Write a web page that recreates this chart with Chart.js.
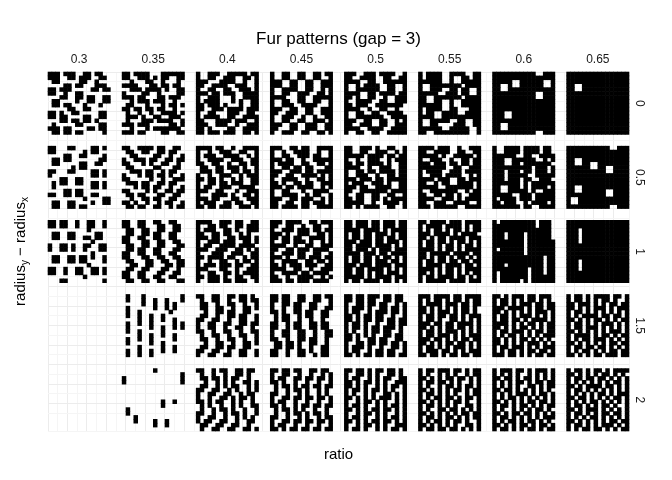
<!DOCTYPE html>
<html>
<head>
<meta charset="utf-8">
<script src="https://cdn.jsdelivr.net/npm/chart.js@4.4.1/dist/chart.umd.min.js"></script>
<style>
html, body { margin: 0; padding: 0; background: #fff; }
</style>
</head>
<body>
<canvas id="furChart" width="672" height="480"></canvas>
<script>
// facet labels
var ratios = ['0.3', '0.35', '0.4', '0.45', '0.5', '0.55', '0.6', '0.65'];
var radiusDiffs = ['0', '0.5', '1', '1.5', '2'];

// fur pattern of every panel on a 16 x 16 grid ('#' = black)
var furRow0 = [
    ["###.###..##.##..", "###..##.###..##.", ".##.....##..#...", "....##.##...###.", "##.###.....##.##", "##..#..##.......",
     "...##..##.##..##", ".##....#..##..##", ".##.##...#...#..", ".....##..##.....", "##.#..##.....##.", "##.##....##..##.",
     "...##.##.##.#...", ".#.....##....##.", "###.##....##.##.", ".##.##.##.....#."],
    ["##.####...######", "##..###.#.##..##", "..#...##..#...#.", "####...##.##.##.", "..###.####.#..##", "#....##..#....##",
     "###.##...##.###.", "..#.###.###..#..", ".##...#...#.##.#", "##.##.##.##..#..", ".#..#..#..####.#", ".###.#..##..###.",
     ".#...###.####..#", "###.###.....##.#", "..#...#.#######.", "###.##....##..##"],
    ["#..###..#####.##", "#..##..###..##.#", "###...####..#..#", "##..####..###..#", "#..##..##..###.#", "###.##.###..####",
     "#..###...#..####", "#.####...#.#..##", "##.###.#...#..##", "##..###.####.###", "#..##...###..##.", "#.####..##..####",
     "##...####.###..#", "###..###..#..###", "##.#....##..####", "##.###.###..##.#"],
    ["#..##..##..##.##", "#..##..##..##..#", "###..##..##..###", "###..##..##..###", "#..####..##..#.#", "#..##..###..##.#",
     "####...##..#####", "#..##..##..##..#", "#..###..####...#", "###..##..##..###", "##..###..##..###", "#..###..#..#..##",
     "#..##..##..###.#", "###..##..###..##", "##...##..###..##", "#..###..##..##.#"],
    ["###..###.####..#", "##..####..##..##", "####..##..######", "#..#.####..##..#", "#..######..##..#", "####..##.####.##",
     "##.#..##..#..###", "#..####..##..###", "##.###..#######.", "####..#..##..#..", "#..##..##..####.", "#..#######..####",
     "###..##..##..#.#", "##..###..##..###", "####..####..####", "#..##..##..#####"],
    ["#.####..####..##", "#.####..#..##.##", "######..#..#####", "#..########.####", "#..###..##.##..#", "#####..###.##..#",
     "##..#######.####", "##..##..#..#####", "######..#..#####", "#.####..##...###", "#.##..####..####", "####..##########",
     "#..#####..##..##", "#..##....###..##", "######..#####..#", "##..#########..#"],
    ["###########..###", "################", "#####..######..#", "##..#..######..#", "##..############", "###########..###",
     "###########..###", "################", "################", "################", "###..###########", "###..###########",
     "################", "##..############", "##..############", "###########..###"],
    ["################", "################", "################", "##..############", "##..############", "################",
     "################", "################", "################", "################", "################", "################",
     "################", "################", "################", "################"]
];
var furRow1 = [
    ["##...##....##.#.", "##.......#.##...", "....##..##....#.", ".##.##.......##.", ".##.....##..##..", "......#.##......",
     "##...##....##.#.", "#..........##.#.", "...##..##.......", ".#.##..##..##.#.", ".#.........##.#.", "....##.##.......",
     "##..##.##..##...", ".........#....##", ".##..##....#..##", ".##..##.##......"],
    ["##..####.##..##.", ".##..##..##.##..", "..##....##..#..#", "#..###.##..##.##", "##...#.#..##..#.", ".##.....##...##.",
     "..###.##..#.##..", "#...#.##.##.#..#", "##.....#..#..###", ".###.##..##.##..", "...#.##.##..#..#", "##....#.#..##.##",
     ".##.##...##..##.", "..#..##.##..##..", "##.#..#..#.##..#", ".##.##..##..#.##"],
    ["####.##..#..####", "#..#..###..##..#", "#.###..####..#.#", "#..####..###..##", "##..##..#..##.##", ".##..##.###.#..#",
     ".###.##..##.##.#", "#..#..###..#.###", "##.##.#..#.#..##", "#..##.##.###..##", "#.##..###..####.", "###..##...#..###",
     "#...####.#..##.#", "###.##...##..###", "#.###..##.##..##", "##.##.###..###.#"],
    ["###..##.##..####", "#..#..####..#..#", "#..##..###.##..#", "###.##..#..#####", "#.####..##..##.#", "#..##.##.##...##",
     "###..###.##.####", "##..##..####.#.#", "#..####..#..##.#", "##.#..##.##..###", "###.##.####..#.#", "#..##...#..####.",
     "#..####..#.##..#", "###..##.###..#.#", "##..##..##.###.#", "##.####.##..####"],
    ["##..###.#..##..#", "##..##..###..#.#", "#####.####.##.##", "#..#..###..#.###", "##.##.####.#..##", "####..#..###..##",
     "#..##.##.####.##", "#..###..#..##.##", "###.###.##.#####", "#.###..###.#..##", "###.##..####..##", "##..#######.####",
     "#..##..##..##..#", "##.##..##.#.####", "#####..#..####.#", "##.#.####..##..#"],
    ["####.###..#..###", "##..####..##..##", "#####.#..#####.#", "#..###..#..##.##", "###.###.##.##.##", "#######..##..###",
     "#.####..###.####", "#..###.####..#.#", "####.###..##.###", "##..#.##..####.#", "#####..#######.#", "#..#######..#.##",
     "##..##.##.#..###", "####..###.#.####", "##..###..####..#", "###.######..####"],
    ["#..####.####.##.", "#..####.####.##.", "######..##..####", "###..######..#.#", "###..##.#######.", "##########.###.#",
     "###.###.##.###.#", "###.#####..#####", "###.###.##..###.", "#######.#.######", "##..###.#.####.#", "##..#####.#..###",
     "#####..###.#####", "#.####.###.#####", "##.###..#.####.#", "#######.##..####"],
    ["###########..###", "################", "################", "##..############", "##..##..########", "######..##..####",
     "##########..####", "################", "################", "################", "##..############", "##..######..####",
     "##########..####", "#..#############", "#..#############", "###########..###"]
];
var furRow2 = [
    ["##.##..#..##..#.", "##.##..#..##..#.", "..........#.....", ".##..##.....##..", ".##..##..##.##..", "...........#....",
     "#..##.#..##..##.", "#..##.#..#...##.", "...........#....", ".##..##.##.#..#.", ".##..##.##....#.", "..........#.....",
     "##..#..##..##.#.", "##..#..##..##.#.", ".........#......", "...##.........#."],
    ["##..##..##..##..", "##..##...##..##.", ".##..##..##..##.", ".##..##.##..##..", "##..##..##..##..", "##...##..##..##.",
     ".##..##..##...##", ".##.##..##...##.", "##..##..##..##..", "##...##..##..##.", ".##...##..##..##", "..##..##...##.##",
     ".##..##...##..#.", "##..##...##..##.", "##..##..##..##..", ".##..##..##...##"],
    ["####..###.##..##", "#..##.##..##.###", "#.###..##.#..###", "##..##.##..#.#..", "###.##..##.###.#", "#..###.###..##.#",
     "#.##..####.####.", "###..###..##.#.#", "#...###..###..##", "##.####.##..#.##", "#..#..##..#.##.#", "#.###.###.##..##",
     "###...##..#..###", "#..##..##.#.####", "##.###.#..##..##", "#..###.##.###..#"],
    ["###.####..##.###", "##..##..#..##..#", "#..###.###.##.##", "###.#..###..##.#", "##.##.##..####.#", "#..##.###.#..#.#",
     "####..#..##..###", "##..##.###.####.", "#..###.##..##..#", "###.#..##.###.##", "#..####..##.##.#", "##.#.###.###..##",
     "####..##..#..###", "#..####.##.####.", "##..#..####..#.#", "###.##.###.####."],
    ["##.###.##.###.##", "##.###.##.###.##", "####.####.#.####", "#.##.##.###.#.##", "#.##.##.##.##.##", "###.###.##.###.#",
     "##.####.####.#.#", "##.###.#.###.###", "####.###.##.####", "#.##.##.#.##.#.#", "#.##.##.###.##.#", "###.###.####.###",
     "##.##.####.#.#.#", "##.##.#.##.###.#", "#####.#.####.###", "#.##.####.##.#.#"],
    ["##.####.###.####", "#.####.####.#.##", "#.#.##.#.##.#.##", "###.####.#.####.", "##.#.##.####.###", "#.##.##.#.##.#.#",
     "#.##.#.##.#.##.#", "####.#.##.#.####", "##.#####.####.##", "##.#.##.#.##.#.#", "#.##.##.##.##.##", "#.####.####.##.#",
     "####.#.##.#.####", "##.#.#.##.#.#.##", "#.##.####.##.#.#", "#.#####.####.###"],
    ["#.#########.###.", "###########.###.", "###############.", "###.####.######.", "###.####.######.", "########.#######",
     "########.#######", "#.######.#######", "########.#######", "#############.##", "#############.##", "###.#########.##",
     "#########.###.##", "#.#######.###.##", "#.#######.######", "#.#####.#.######"],
    ["################", "################", "###.############", "###.############", "###.############", "###.############",
     "################", "################", "################", "################", "###.############", "###.############",
     "###.############", "################", "################", "################"]
];
var furRow3 = [
    [],
    [".#...#.........#", ".#...#..#..#...#", ".....#..#..#.#..", ".#......#..#.#..", ".#..#.......#...", ".#..#..#..#.....",
     "....#..#..#..#..", ".#..#..#.....#.#", ".#.....#..#..#.#", ".#..#.....#.....", "....#..#..#..#..", ".#..#..#.....#..",
     ".#.....#..#.....", "....#.....#..#..", ".#..#..#..#..#..", ".#..#..#........"],
    ["##..##..##.##.#.", ".#..##..#..##.##", ".##..#..##..#..#", ".##..##..#..##.#", "..#..##.##..##..", ".##..#..##.##..#",
     "##..##..#..##..#", "#..##..##..##.##", "#..##..#..##..#.", "##..#..##..#..##", ".#..##..#..##..#", ".##..#..##..#..#",
     "..#..##..#..##.#", ".##..##.##..##..", "##..##..#..##..#", "#..##..##..##..#"],
    ["##.##..##..##.##", "##.##..##..##..#", "#..##.##..##...#", "#..#..##..##..##", "##.#..##.##..##.", ".#.##..#.##..##.",
     ".#.##..#..#..#..", "##..#.##..##.##.", "##..#.##..##.##.", "#..##..##..#..##", "#..##..##..#..##", "##..#..##.##..#.",
     ".##.##.#..##..#.", ".##.##.#..#..##.", "##..#..##.#..##.", "##..#..##..#.##."],
    ["##.##.###.##.##.", "##.##.##..##.##.", "#..##.##.##..#.#", "#.###.#..##.##.#", "#.##..#.###.##.#", "##.#.##.##..#..#",
     "##.#.##.##.##.##", "#.##.#..#..##.##", "#.##.#.##.###.#.", "#.#..#.##.##..#.", "##.#.#.#..##.##.", "##.#..##.##..##.",
     "#..##.##.##.##.#", "#.###.#..#..##.#", "#.##..#.##.##..#", "##.#.##.##.##.##"],
    ["###.####.##.####", "#.#.##.#.##.#.##", "#.####.###.##.##", "##.#.#.#.#.##.#.", "##.#.###.#.##.#.", "#.##.##.##.#.###",
     "#.##.#..##.#.#.#", "###.##.##.####.#", "##.#.#.##.##.#.#", "#.##.#.###.#.#.#", "#.##.###.#.#.###", "###.##.#.#.##.##",
     "##.#.#.##.##.#.#", "#.##.#.#.###.#.#", "#.###.##.#.#.###", "##.##.#.##.##.##"],
    ["##.#.###.##.###.", "#.##.#.#.##.#.#.", "#.##.#.###.##.##", "###.####.#.##.##", "##.#.#.#.#.###.#", "#.##.#.###.#.#.#",
     "#.##.##.#.####.#", "####.#.#.##.#.##", "##.#.#.##.#.#.##", "#.##.###.#.##.##", "#.#.##.#.#.#.###", "##.#.#.##.#.#.#.",
     "##.#.#.#.###.#.#", "#.##.###.#.#.###", "#.#.##.#.##.##.#", "###.##.#.#.##.##"],
    ["#.##.#.####.##.#", "#.##.#.#.##.#..#", "##.###.#.#.##.##", "##.#.#.###.#.###", "#.##.#.#.#.#.#.#", "#.#.####.##.##.#",
     "##.#.#.##.#.#.##", "#.##.#.#.###.#.#", "#.##.###.#.#.#.#", "##.#.#.#.#.###.#", "#.####.#.##.#.##", "#.#.##.###.#.#.#",
     "##.#.#.#.#.##.##", "#.##.##.##.#.#.#", "#.#.##.#.#.##.##", "##.#.#.##.###.##"]
];
var furRow4 = [
    [],
    ["........#.......", "...............#", "#..............#", "#..............#", "................", "................",
     "................", "................", "..........#..#..", "..........#.....", ".#..............", ".#..............",
     "...#............", "...#....#..#....", "........#..#....", "................"],
    ["##..#.##..##.##.", ".#..#..#..##.#..", ".##.##.#.##..#..", "..#..#.#.#..##.#", ".##..#.#.##..#.#", "##..##..#.#..#.#",
     "#..##..##..#.##.", "#..#..##.#.##.#.", "##.#.##..#.#..#.", ".#.#..#..#.#..##", ".#..#.##.#..#..#", "##..#..#.##.#..#",
     "#..##..#..#.#.#.", "#.##..##..#..##.", ".##..##..##..#..", ".#..##..##..##.#"],
    ["##.##.##..##.##.", "#..##..#..#..#.#", "#.##..##.##.##.#", "##.#..#..#..#..#", ".#.##.#.##.##.##", ".#..#.##.#..#.#.",
     "##..#..#.#..#.#.", "#..##.##.##.##.#", "#.##..#..#..#..#", "##.#..#.##.##.##", ".#.##.#.#..#..#.", ".#..#.##.#.##.#.",
     "##..#..#.#..#.##", "#..##.##.##.##.#", "#.##..#..#..#..#", "##.#.##.##.##.##"],
    ["##.##.#.##.##.#.", "#..##.#.#..##.#.", "#.##..#.#.##..##", "##.#.##.#.#..###", "##.#.#..#.#.##.#", "#.##.#.##.#.#..#",
     "#.#..#.#..##.#.#", "##.#.#.#.###.#.#", "#..#.##.#.#..#.#", "#.##.#..#.#.##.#", "##.#.#.##.##.#.#", "#..#.##.#.#..#.#",
     "#.##.#..#.#.##.#", "##.#.#.##.##.#.#", "#..#.##.#.#..###", "#.##.#..#.#.##.#"],
    ["#.##.###.##.#.##", "#.#..#.#.#..#.##", "##.#.#.##.##.#.#", "#.##.##.#.#..#.#", "#.#..#.##.#.##.#", "##.#.#.#.##.#.##",
     "#.##.#.#.#..#.##", "#.#.##.##.#.##.#", "##.#.#.#.##.#..#", "#.##.#.#.#..##.#", "#.#..##.##.#.#.#", "##.#.#.#.#.##.##",
     "#.##.#.##.#.#.##", "#.#.##.#.##.#..#", "##.#.#.#.#..##.#", "#.##.##.##.#.#.#"],
    ["#.###.##.#.###.#", "#.#.#.#..#.#.#.#", "##.##.#.##.#.#.#", "#.#.#.##.#.##.##", "#.#.#.#..##.#.##", "##.##.#.#.#.#.#.",
     "#.#.#.###.#.##.#", "#.#.##.#.#.#.#.#", "##.#.#.#.##.##.#", "#.##.#.##.#.#.##", "#.#..#.#.#.##.#.", "##.#.##.##.#.#.#",
     "#.##.#.#.#.#.###", "#.#.##.#.##.#.#.", "##.#.#.##.#.##.#", "#.##.#.#.##.#.##"],
    ["#.##.#.##.#.####", "##.#.#.#.##.#.#.", "#.##.##.##.#.#.#", "#.#.#.#.#.#.##.#", "##.#.####.##.#.#", "#.##.#.#.#.#.#.#",
     "#.#.#.#.##.#.###", "##.##.#.#.#.##.#", "#.#.#.##.#.#.#.#", "#.##.#.#.##.#..#", "##.#.###.#.#.#.#", "#.##.#.#.##.##.#",
     "#.#.#.##.#.#.#.#", "##.#.#.#.#.##.##", "#.##.#.#.###.#.#", "#.#.##.##.#.#.##"]
];
var furRows = [furRow0, furRow1, furRow2, furRow3, furRow4];

var panelCells = 16;  // cells per panel side
var panelStep = 19;   // panel + gap, in cells

var cells = [];
furRows.forEach(function (panels, r) {
    panels.forEach(function (grid, c) {
        grid.forEach(function (line, i) {
            for (var j = 0; j < line.length; j++) {
                if (line.charAt(j) == '#') {
                    cells.push({ x: c * panelStep + j + 0.5, y: r * panelStep + i + 0.5 });
                }
            }
        });
    });
});

var FONT = '"Liberation Sans", Arial, sans-serif';

var furLabels = {
    id: 'furLabels',
    afterDraw: function (chart) {
        var ctx = chart.ctx, sx = chart.scales.x, sy = chart.scales.y, area = chart.chartArea;
        var midX = (area.left + area.right) / 2;
        var midY = (area.top + area.bottom) / 2;
        ctx.save();
        ctx.textAlign = 'center';
        ctx.textBaseline = 'middle';

        ctx.fillStyle = '#000';
        ctx.font = '17px ' + FONT;
        ctx.fillText('Fur patterns (gap = 3)', midX, 39);

        ctx.fillStyle = '#1a1a1a';
        ctx.font = '12px ' + FONT;
        ratios.forEach(function (lab, c) {
            ctx.fillText(lab, sx.getPixelForValue(c * panelStep + panelCells / 2), 60);
        });
        radiusDiffs.forEach(function (lab, r) {
            ctx.save();
            ctx.translate(area.right + 10, sy.getPixelForValue(r * panelStep + panelCells / 2));
            ctx.rotate(Math.PI / 2);
            ctx.fillText(lab, 0, 0);
            ctx.restore();
        });

        ctx.fillStyle = '#000';
        ctx.font = '15px ' + FONT;
        ctx.fillText('ratio', midX, 455);

        // y title with subscripts, rotated
        var parts = [['radius', 15, 0], ['y', 10, 4], [' \u2212 radius', 15, 0], ['x', 10, 4]];
        var total = 0;
        parts.forEach(function (p) { ctx.font = p[1] + 'px ' + FONT; total += ctx.measureText(p[0]).width; });
        ctx.save();
        ctx.translate(21, midY);
        ctx.rotate(-Math.PI / 2);
        ctx.textAlign = 'left';
        var pos = -total / 2;
        parts.forEach(function (p) {
            ctx.font = p[1] + 'px ' + FONT;
            ctx.fillText(p[0], pos, p[2]);
            pos += ctx.measureText(p[0]).width;
        });
        ctx.restore();
        ctx.restore();
    }
};

function gridColor(c) {
    return (c.tick && c.tick.value % 5 == 0) ? '#ececec' : '#f5f5f5';
}

var chart = new Chart(document.getElementById('furChart').getContext('2d'), {
    type: 'scatter',
    data: {
        datasets: [{
            data: cells,
            backgroundColor: '#000',
            borderWidth: 0,
            pointStyle: 'rect',
            pointRadius: function (c) {
                var sx = c.chart.scales.x;
                var w = Math.abs(sx.getPixelForValue(1) - sx.getPixelForValue(0));
                return (w + 0.6) / Math.SQRT2;
            },
            pointHoverRadius: 0,
            clip: false
        }]
    },
    options: {
        responsive: false,
        animation: false,
        events: [],
        layout: { padding: { left: 48, right: 43, top: 72, bottom: 49 } },
        plugins: {
            legend: { display: false },
            tooltip: { enabled: false },
            title: { display: false }
        },
        scales: {
            x: {
                type: 'linear', min: 0, max: panelStep * ratios.length - 3,
                ticks: { display: false, stepSize: 2.5 },
                grid: { color: gridColor, drawTicks: false },
                border: { display: false }
            },
            y: {
                type: 'linear', min: 0, max: panelStep * radiusDiffs.length - 3, reverse: true,
                ticks: { display: false, stepSize: 2.5 },
                grid: { color: gridColor, drawTicks: false },
                border: { display: false }
            }
        }
    },
    plugins: [furLabels]
});
</script>
</body>
</html>
